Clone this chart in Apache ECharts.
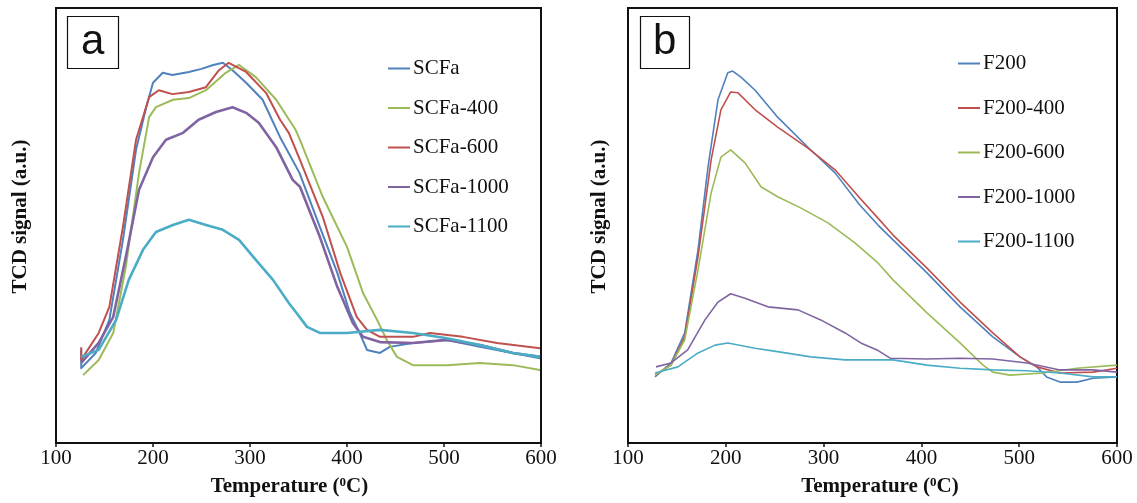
<!DOCTYPE html>
<html>
<head>
<meta charset="utf-8">
<script src="https://cdn.jsdelivr.net/npm/echarts@6/dist/echarts.min.js"></script>
<style>
html,body{margin:0;padding:0;background:#fff;}
#chart{width:1137px;height:503px;}
</style>
</head>
<body>
<div id="chart"></div>
<script>
// ---- Data (x = temperature in °C, y = TCD signal, arbitrary units 0-100) ----
const xTicks = [100, 200, 300, 400, 500, 600];
const namesA = ['SCFa', 'SCFa-400', 'SCFa-600', 'SCFa-1000', 'SCFa-1100'];
const namesB = ['F200', 'F200-400', 'F200-600', 'F200-1000', 'F200-1100'];

const scfa = [[126,21.5],[126,17.2],[141,20.7],[155,28.3],[169,46.7],[182.5,67.4],[193,77.2],[200,82.8],[210,85.1],[220,84.6],[237,85.3],[250,86.0],[262,86.9],[272,87.4],[282,85.7],[296,82.8],[313,78.9],[331,70.3],[351,62.1],[372,49.7],[390,39.1],[403,29.9],[413,25.3],[420.6,21.4],[434,20.7],[444,22.1],[468,23.0],[503,23.7],[537,22.1],[571,20.7],[599,19.5]];
const scfa400 = [[128,15.6],[144,19.1],[159,25.3],[172,40.5],[185.6,62.1],[196,74.9],[203,77.2],[220.6,78.9],[237,79.3],[254.6,81.1],[275,85.1],[288.7,86.9],[306,84.1],[327,78.9],[347,72.0],[351.5,69.7],[375,56.6],[400,45.1],[416.5,34.5],[431,28.3],[441,23.7],[451.5,19.8],[468,17.9],[503,17.9],[537,18.4],[571,17.9],[599,16.8]];
const scfa600 = [[126,22.0],[126,19.1],[144,25.3],[155,31.3],[169,49.7],[182.5,69.7],[196,79.5],[206,81.1],[220,80.2],[237,80.7],[254.6,81.8],[268,85.7],[278,87.4],[296,85.3],[316.5,80.5],[331,74.3],[340,71.3],[351.5,65.1],[375,52.0],[393,39.1],[410,29.0],[420.6,26.0],[434,24.4],[468,24.4],[485.6,25.3],[519.6,24.4],[554.6,23.0],[599,21.8]];
const scfa1000 = [[126,18.4],[144,23.0],[159,29.0],[172,42.8],[185.6,58.2],[200,65.7],[213.4,69.7],[231,71.3],[247,74.3],[265,76.1],[282,77.2],[296,75.9],[309,73.6],[327,68.0],[344,60.5],[351.5,58.9],[372,47.4],[390,35.9],[406,27.6],[416.5,24.4],[434,23.2],[468,23.0],[503,23.7],[537,22.5],[571,20.7],[599,19.8]];
const scfa1100 = [[126,19.8],[144,21.4],[162,28.3],[175,37.5],[189.7,44.4],[203,48.5],[220.6,50.1],[237,51.3],[254.6,50.1],[272,49.0],[288.7,46.7],[306,42.1],[323.7,37.5],[340,32.2],[348,29.9],[358.8,26.7],[372,25.3],[400,25.3],[434,26.0],[468,25.3],[503,24.1],[537,22.5],[571,20.7],[599,19.8]];

const f200 = [[127.6,15.2],[144,18.4],[158,25.3],[171.6,44.4],[181.8,63.4],[192,78.9],[202,85.1],[207,85.5],[215.5,84.1],[230,81.1],[253,74.9],[284,68.0],[311.7,62.1],[337,54.7],[355.6,50.1],[371,46.7],[405.7,39.1],[439.5,31.3],[473,24.4],[500.8,19.8],[518,17.5],[528,15.2],[541.7,14.0],[559,14.0],[575.5,14.9],[600,15.2]];
const f200_400 = [[127.6,15.6],[144,17.9],[158,24.4],[171.6,42.8],[185,65.1],[195,76.6],[205,80.7],[212.5,80.5],[230,76.6],[253,72.6],[284,67.8],[311.7,62.8],[337,56.3],[355.6,51.7],[371,47.8],[405.7,40.2],[439.5,32.4],[473,25.3],[500.8,19.8],[518,17.5],[541.7,16.1],[575.5,16.3],[600,17.2]];
const f200_600 = [[127.6,15.6],[144,17.9],[158,23.7],[171.6,39.8],[185,57.5],[195,65.7],[205,67.4],[219.6,64.4],[236,58.9],[253,56.6],[277,54.0],[304.5,50.6],[332,46.0],[355.6,41.4],[371,37.5],[405.7,29.9],[439.5,23.0],[463,17.9],[473,16.3],[490.6,15.6],[524,16.1],[559,17.2],[600,17.9]];
const f200_1000 = [[128.6,17.5],[144,18.4],[161,21.4],[178.7,28.3],[192,32.4],[205,34.3],[219.6,33.3],[243,31.3],[273.8,30.6],[297,28.3],[322,25.3],[338,23.0],[354.6,21.4],[368,19.5],[405.7,19.3],[439.5,19.5],[473,19.3],[508,18.4],[541.7,16.8],[575.5,16.8],[600,16.3]];
const f200_1100 = [[127.6,16.1],[151,17.5],[171.6,20.7],[189,22.5],[202,23.0],[230,21.8],[256,20.9],[287,19.8],[322,19.1],[355.6,19.1],[371,19.1],[405.7,17.9],[439.5,17.2],[473,16.8],[508,16.6],[541.7,16.1],[575.5,15.2],[600,15.2]];

const seriesA = [scfa, scfa400, scfa600, scfa1000, scfa1100];
const seriesB = [f200, f200_400, f200_600, f200_1000, f200_1100];
const colorsA = ['#4f81bd', '#9bbb59', '#c0504d', '#8064a2', '#4bacc6'];
const colorsB = ['#4f81bd', '#c0504d', '#9bbb59', '#8064a2', '#4bacc6'];
const widthsA = [2, 2, 2, 2.6, 2.6];
const widthsB = [1.6, 1.6, 1.6, 1.6, 1.6];

const SERIF = "'Liberation Serif','Times New Roman',serif";

function xAxisCfg(idx, pad) {
  return {
    gridIndex: idx, type: 'value', min: 100, max: 600, interval: 100,
    axisLine: { show: true, lineStyle: { color: '#111', width: 2 } },
    axisTick: { show: true, inside: false, length: 4, lineStyle: { color: '#111', width: 1.5 } },
    axisLabel: { color: '#111', fontFamily: SERIF, fontSize: 21, margin: 5,
      customValues: xTicks },
    splitLine: { show: false },
    name: 'Temperature ({s|0}C)', nameLocation: 'middle', nameGap: 33,
    nameTextStyle: { color: '#111', fontFamily: SERIF, fontWeight: 'bold', fontSize: 21, lineHeight: 22, padding: pad,
      rich: { s: { fontFamily: SERIF, fontWeight: 'bold', fontSize: 13, verticalAlign: 'top', lineHeight: 13, color: '#111' } } }
  };
}
function yAxisCfg(idx, gap) {
  return {
    gridIndex: idx, type: 'value', min: 0, max: 100,
    axisLine: { show: true, lineStyle: { color: '#111', width: 2 } },
    axisTick: { show: false }, axisLabel: { show: false }, splitLine: { show: false },
    name: 'TCD signal (a.u.)', nameLocation: 'middle', nameGap: gap, nameRotate: 90,
    nameTextStyle: { color: '#111', fontFamily: SERIF, fontWeight: 'bold', fontSize: 21, padding: [0, 0, 0, 18] }
  };
}

const series = [];
namesA.forEach((n, i) => series.push({
  name: n, type: 'line', xAxisIndex: 0, yAxisIndex: 0, data: seriesA[i],
  symbol: 'none', smooth: false, lineStyle: { color: colorsA[i], width: widthsA[i], join: 'round' },
  itemStyle: { color: colorsA[i] }
}));
namesB.forEach((n, i) => series.push({
  name: n, type: 'line', xAxisIndex: 1, yAxisIndex: 1, data: seriesB[i],
  symbol: 'none', smooth: false, lineStyle: { color: colorsB[i], width: widthsB[i], join: 'round' },
  itemStyle: { color: colorsB[i] }
}));

const legendCommon = {
  orient: 'vertical', icon: 'rect', itemWidth: 22, itemHeight: 2,
  textStyle: { fontFamily: SERIF, fontSize: 21, color: '#111', padding: [0, 0, 0, -2] },
  selectedMode: false
};

const option = {
  backgroundColor: '#fff',
  animation: false,
  title: [
    { text: 'a', left: 67, top: 17, padding: [5, 14, 5, 14], borderColor: '#111', borderWidth: 1.2,
      textStyle: { fontFamily: "'Liberation Sans',Arial,sans-serif", fontWeight: 'normal', fontSize: 42, lineHeight: 41, color: '#111' } },
    { text: 'b', left: 640, top: 17, padding: [5, 13, 5, 13], borderColor: '#111', borderWidth: 1.2,
      textStyle: { fontFamily: "'Liberation Sans',Arial,sans-serif", fontWeight: 'normal', fontSize: 42, lineHeight: 41, color: '#111' } }
  ],
  legend: [
    Object.assign({}, legendCommon, { data: namesA, left: 383, top: 53, itemGap: 18.5 }),
    Object.assign({}, legendCommon, { data: namesB, left: 953, top: 48, itemGap: 23.5 })
  ],
  grid: [
    { left: 56, top: 8, width: 485, height: 435, show: true, borderColor: '#111', borderWidth: 2, backgroundColor: 'transparent' },
    { left: 628, top: 8, width: 489, height: 435, show: true, borderColor: '#111', borderWidth: 2, backgroundColor: 'transparent' }
  ],
  xAxis: [xAxisCfg(0, [0, 18, 0, 0]), xAxisCfg(1, [0, 0, 0, 15])],
  yAxis: [yAxisCfg(0, 25), yAxisCfg(1, 18)],
  series: series
};

const chart = echarts.init(document.getElementById('chart'), null, { renderer: 'canvas' });
chart.setOption(option);
</script>
</body>
</html>
